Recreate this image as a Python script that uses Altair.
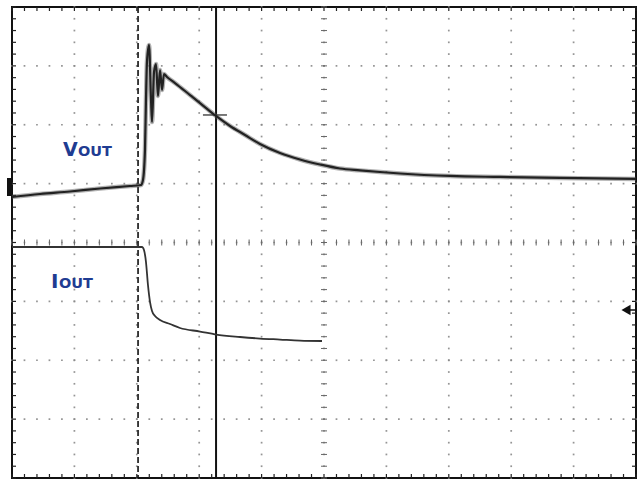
import altair as alt
import numpy as np
import pandas as pd

# ---- trace data (x and y in screen divisions: x 0..10, y -4..4) ----
vout_t = [0.0, 0.449, 0.929, 1.410, 1.891, 2.067, 2.099, 2.131, 2.147, 2.163, 2.196,
          2.228, 2.244, 2.276, 2.308, 2.340, 2.372, 2.404, 2.436, 2.484, 2.612, 2.853,
          3.013, 3.269, 3.494, 3.734, 3.974, 4.295, 4.615, 4.936, 5.256, 5.577, 5.897,
          6.218, 7.019, 7.821, 8.782, 10.0]
vout_v = [0.773, 0.824, 0.866, 0.917, 0.960, 0.977, 1.062, 1.571, 2.420, 3.066, 3.355,
          2.420, 2.047, 2.896, 3.032, 2.488, 2.930, 2.590, 2.862, 2.811, 2.709, 2.505,
          2.369, 2.149, 1.979, 1.826, 1.673, 1.520, 1.410, 1.325, 1.257, 1.225, 1.197,
          1.172, 1.130, 1.113, 1.096, 1.079]

iout_t = [0.0, 2.083, 2.115, 2.147, 2.179, 2.212, 2.244, 2.292, 2.372, 2.532, 2.692,
          3.013, 3.269, 3.654, 3.974, 4.295, 4.615, 4.968]
iout_v = [-0.076, -0.076, -0.127, -0.331, -0.722, -1.011, -1.163, -1.248, -1.316,
          -1.384, -1.452, -1.512, -1.563, -1.605, -1.631, -1.648, -1.665, -1.673]

cursor_t = [2.02, 3.27]          # dashed, solid
cross_t = [3.06, 3.445]
cross_v = [2.166]

W, H = 624, 471
X_DOM = [0, 10]
Y_DOM = [-4, 4]

xs = alt.Scale(domain=X_DOM, nice=False, zero=False)
ys = alt.Scale(domain=Y_DOM, nice=False, zero=False)

vout = pd.DataFrame({"t": vout_t, "v": vout_v})
iout = pd.DataFrame({"t": iout_t, "v": iout_v})

minor_x = np.round(np.arange(0, 10.0001, 0.2), 3)
minor_y = np.round(np.arange(-4, 4.0001, 0.2), 3)
major_x = [1, 2, 3, 4, 6, 7, 8, 9]
major_y = [-3, -2, -1, 1, 2, 3]

# grid dots
dots = pd.DataFrame(
    [{"t": x, "v": y} for y in major_y for x in minor_x] +
    [{"t": x, "v": y} for x in major_x for y in minor_y]
)
grid = alt.Chart(dots).mark_square(size=3, color="#8a8a8a", opacity=0.9).encode(
    x=alt.X("t:Q", scale=xs, axis=None), y=alt.Y("v:Q", scale=ys, axis=None))

mx = pd.DataFrame({"t": minor_x})
my = pd.DataFrame({"v": minor_y})

# center axes ticks
cx_ticks = alt.Chart(mx).mark_rule(color="#666", strokeWidth=1).encode(
    x=alt.X("t:Q", scale=xs, axis=None), y=alt.value(H / 2 - 3), y2=alt.value(H / 2 + 3))
cy_ticks = alt.Chart(my).mark_rule(color="#666", strokeWidth=1).encode(
    y=alt.Y("v:Q", scale=ys, axis=None), x=alt.value(W / 2 - 3), x2=alt.value(W / 2 + 3))
cx_line = alt.Chart(mx).mark_square(size=3, color="#777").encode(
    x=alt.X("t:Q", scale=xs, axis=None), y=alt.Y("v:Q", scale=ys, axis=None)).transform_calculate(v="0")
cy_line = alt.Chart(my).mark_square(size=3, color="#777").encode(
    y=alt.Y("v:Q", scale=ys, axis=None), x=alt.X("t:Q", scale=xs, axis=None)).transform_calculate(t="5")

# border ticks (inward)
top_ticks = alt.Chart(mx).mark_rule(color="#222", strokeWidth=1.2).encode(
    x=alt.X("t:Q", scale=xs, axis=None), y=alt.value(0), y2=alt.value(4))
bot_ticks = alt.Chart(mx).mark_rule(color="#222", strokeWidth=1.2).encode(
    x=alt.X("t:Q", scale=xs, axis=None), y=alt.value(H - 4), y2=alt.value(H))
left_ticks = alt.Chart(my).mark_rule(color="#222", strokeWidth=1.2).encode(
    y=alt.Y("v:Q", scale=ys, axis=None), x=alt.value(0), x2=alt.value(4))
right_ticks = alt.Chart(my).mark_rule(color="#222", strokeWidth=1.2).encode(
    y=alt.Y("v:Q", scale=ys, axis=None), x=alt.value(W - 4), x2=alt.value(W))

# cursors
cur = pd.DataFrame({"t": cursor_t, "kind": ["dash", "solid"]})
cur_dash = alt.Chart(cur.iloc[[0]]).mark_rule(color="#111", strokeWidth=1.6, strokeDash=[6, 3]).encode(
    x=alt.X("t:Q", scale=xs, axis=None))
cur_solid = alt.Chart(cur.iloc[[1]]).mark_rule(color="#111", strokeWidth=2).encode(
    x=alt.X("t:Q", scale=xs, axis=None))
cross = alt.Chart(pd.DataFrame({"t": [cross_t[0]], "t2": [cross_t[1]], "v": cross_v})).mark_rule(
    color="#333", strokeWidth=1.3).encode(
    x=alt.X("t:Q", scale=xs, axis=None), x2="t2:Q", y=alt.Y("v:Q", scale=ys, axis=None))

# traces
vout_fuzz = alt.Chart(vout).mark_line(color="#555", strokeWidth=4.5, opacity=0.45,
                                      interpolate="monotone").encode(
    x=alt.X("t:Q", scale=xs, axis=None), y=alt.Y("v:Q", scale=ys, axis=None))
vout_line = alt.Chart(vout).mark_line(color="#222", strokeWidth=2.2,
                                      interpolate="monotone").encode(
    x=alt.X("t:Q", scale=xs, axis=None), y=alt.Y("v:Q", scale=ys, axis=None))
iout_line = alt.Chart(iout).mark_line(color="#333", strokeWidth=1.8,
                                      interpolate="monotone").encode(
    x=alt.X("t:Q", scale=xs, axis=None), y=alt.Y("v:Q", scale=ys, axis=None))

# markers
one = pd.DataFrame({"a": [0]})
left_mark = alt.Chart(one).mark_rect(color="#111").encode(
    x=alt.value(-5), x2=alt.value(0), y=alt.value(171), y2=alt.value(189))
right_arrow = alt.Chart(one).mark_point(shape="triangle-left", filled=True, color="#111",
                                        size=110, opacity=1).encode(
    x=alt.value(614), y=alt.value(303))
right_stub = alt.Chart(one).mark_rule(color="#111", strokeWidth=1.5).encode(
    x=alt.value(614), x2=alt.value(W), y=alt.value(303))

BLUE = "#1f3c92"
FONT = "DejaVu Sans"
lab_v1 = alt.Chart(one).mark_text(text="V", font=FONT, fontWeight="bold", fontSize=19,
                                   color=BLUE, align="left", baseline="alphabetic").encode(
    x=alt.value(51), y=alt.value(149))
lab_v2 = alt.Chart(one).mark_text(text="OUT", font=FONT, fontWeight="bold", fontSize=14.5,
                                   color=BLUE, align="left", baseline="alphabetic").encode(
    x=alt.value(66), y=alt.value(149))
lab_i1 = alt.Chart(one).mark_text(text="I", font=FONT, fontWeight="bold", fontSize=20,
                                   color=BLUE, align="left", baseline="alphabetic").encode(
    x=alt.value(39), y=alt.value(281))
lab_i2 = alt.Chart(one).mark_text(text="OUT", font=FONT, fontWeight="bold", fontSize=14.5,
                                   color=BLUE, align="left", baseline="alphabetic").encode(
    x=alt.value(47), y=alt.value(281))

chart = alt.layer(
    grid, cx_line, cy_line, cx_ticks, cy_ticks,
    top_ticks, bot_ticks, left_ticks, right_ticks,
    cur_dash, cur_solid, cross,
    vout_fuzz, vout_line, iout_line,
    left_mark, right_arrow, right_stub,
    lab_v1, lab_v2, lab_i1, lab_i2,
).properties(
    width=W, height=H,
    padding={"left": 12, "top": 7, "right": 3, "bottom": 5},
    autosize=alt.AutoSizeParams(type="none"),
    background="white",
).configure_view(stroke="#111", strokeWidth=2)

chart.save("out.html", embed_options={"renderer": "svg", "actions": False})
